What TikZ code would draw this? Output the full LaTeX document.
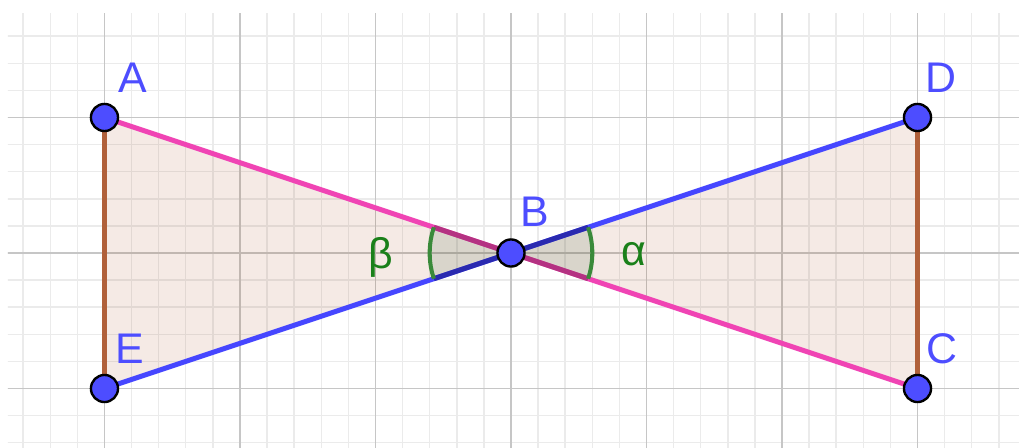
\documentclass[tikz,border=0pt]{standalone}
\usepackage{fontspec}
\setmainfont{Liberation Sans}
\definecolor{ptblue}{HTML}{4D4DFF}
\definecolor{lnblue}{HTML}{4646FF}
\definecolor{lnpink}{HTML}{F044B4}
\definecolor{lndblue}{HTML}{2A2AB0}
\definecolor{lndpink}{HTML}{B43282}
\definecolor{lnbrown}{HTML}{B0603A}
\definecolor{polyfill}{HTML}{993300}
\definecolor{angcol}{HTML}{3A8A3A}
\definecolor{anglab}{HTML}{1A801A}
\definecolor{angfill}{HTML}{3A5A3A}
\definecolor{gridmin}{HTML}{EBEBEB}
\definecolor{gridmaj}{HTML}{C6C6C6}
\tikzset{
  pt/.style={circle,fill=ptblue,draw=black,line width=1pt,minimum size=0.2*2cm,inner sep=0pt},
  ptlabel/.style={anchor=base west,inner sep=0pt,text=ptblue,font=\fontsize{18}{20}\selectfont},
  anglabel/.style={anchor=base,inner sep=0pt,text=anglab,font=\fontsize{18}{20}\selectfont},
  seg/.style={line width=2.1pt},
  angarc/.style={draw=angcol,line width=1.7pt},
  angsector/.style={fill=angfill,fill opacity=0.15},
  poly/.style={fill=polyfill,fill opacity=0.1}
}
\begin{document}
\begin{tikzpicture}[x=2cm,y=2cm]
\useasboundingbox (-3.771,-1.439) rectangle (3.749,1.867);
% grid
\begin{scope}
\clip (-3.712,-1.439) rectangle (3.749,1.771);
\draw[gridmin,line width=0.6pt,step=0.2] (-4,-2) grid (4,2);
\draw[gridmaj,line width=0.8pt,step=1] (-4,-2) grid (4,2);
\end{scope}
% points
\coordinate (A) at (-3,1);
\coordinate (B) at (0,0);
\coordinate (C) at (3,-1);
\coordinate (D) at (3,1);
\coordinate (E) at (-3,-1);
% polygons
\fill[poly] (A) -- (B) -- (E) -- cycle;
\fill[poly] (B) -- (D) -- (C) -- cycle;
% segments
\draw[seg,lnbrown] (A) -- (E);
\draw[seg,lnbrown] (D) -- (C);
\draw[seg,lnpink] (A) -- (C);
\draw[seg,lnblue] (E) -- (D);
% angles
\fill[angsector] (B) -- ++(161.565:0.6) arc (161.565:198.435:0.6) -- cycle;
\fill[angsector] (B) -- ++(-18.435:0.6) arc (-18.435:18.435:0.6) -- cycle;
\begin{scope}
\clip (B) circle (0.6);
\draw[seg,lndpink] (A) -- (C);
\draw[seg,lndblue] (E) -- (D);
\end{scope}
\draw[angarc] (B) ++(161.565:0.6) arc (161.565:198.435:0.6);
\draw[angarc] (B) ++(-18.435:0.6) arc (-18.435:18.435:0.6);
% point markers
\node[pt] (pA) at (A) {};
\node[pt] (pB) at (B) {};
\node[pt] (pC) at (C) {};
\node[pt] (pD) at (D) {};
\node[pt] (pE) at (E) {};
% labels
\node[ptlabel] (lA) at (-2.900,1.188) {A};
\node[ptlabel] (lB) at (0.066,0.192) {B};
\node[ptlabel] (lD) at (3.055,1.188) {D};
\node[ptlabel] (lE) at (-2.923,-0.812) {E};
\node[ptlabel] (lC) at (3.063,-0.812) {C};
\node[anglabel] (lbeta) at (-0.959,-0.118) {β};
\node[anglabel] (lalpha) at (0.908,-0.089) {α};
\end{tikzpicture}
\end{document}
